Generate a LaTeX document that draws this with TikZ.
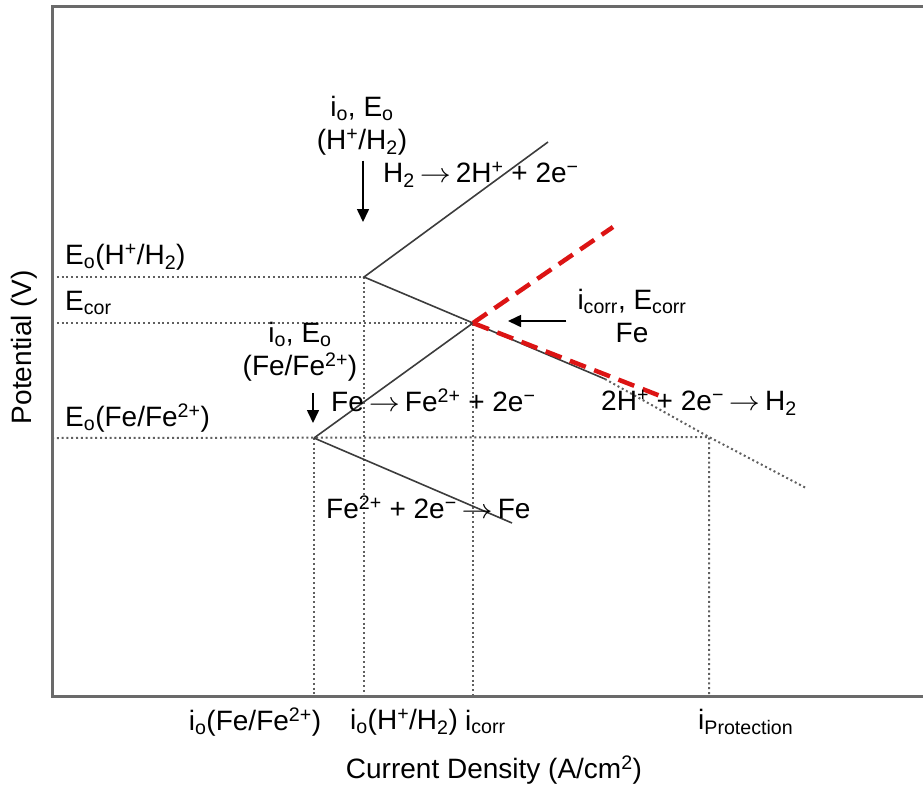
\documentclass[tikz,border=0pt]{standalone}
\usepackage{fontspec}
\setmainfont{Liberation Sans}
\usepackage{xcolor}
\usepackage{graphicx}
\usetikzlibrary{arrows.meta, positioning}
\definecolor{axisgray}{HTML}{6A6A6A}
\definecolor{guidegray}{HTML}{606060}
\definecolor{curvegray}{HTML}{3C3C3C}
\definecolor{polred}{HTML}{DC1414}
\newcommand{\yields}{\hspace{5pt}\scalebox{1.25}[1.1]{$\rightarrow$}\hspace{5pt}}

\begin{document}
\begin{tikzpicture}[
    x=1pt, y=-1pt,
    every node/.style={inner sep=1pt, font=\fontsize{28}{33}\selectfont},
    lbl/.style={align=center},
    axisline/.style={draw=axisgray, line width=3pt},
    guide/.style={draw=guidegray, line width=2pt, dash pattern=on 2pt off 2.8pt},
    tafel/.style={draw=curvegray, line width=1.6pt},
    polar/.style={draw=polred, line width=4.5pt, dash pattern=on 17pt off 9pt},
    pointer/.style={-{Triangle[length=13pt, width=12pt]}, line width=1.6pt, draw=black}
  ]
    \useasboundingbox (0,0) rectangle (923,788);

    % key points of the Evans diagram
    \coordinate (origin) at (52,696);
    \coordinate (hv) at (364,277);
    \coordinate (fev) at (314,438);
    \coordinate (corr) at (473,323);
    \coordinate (prot) at (709,437);
    \coordinate (hoxend) at (548,142);
    \coordinate (feredend) at (512,523);
    \coordinate (hsolid) at (605,379);
    \coordinate (hdotend) at (806,488);
    \coordinate (redup) at (613,227);
    \coordinate (reddown) at (663,397);

    % guide lines
    \draw[guide] (origin |- hv) -- (hv) -- (hv |- origin);
    \draw[guide] (origin |- corr) -- (corr) -- (corr |- origin);
    \draw[guide] (origin |- fev) -- (prot) -- (prot |- origin);
    \draw[guide] (fev) -- (fev |- origin);

    % axes
    \draw[axisline] (923,6) -- (52,6) -- (origin) -- (923,696);

    % tafel lines
    \draw[tafel] (hoxend) -- (hv) -- (corr) -- (hsolid);
    \draw[guide] (hsolid) -- (prot) -- (hdotend);
    \draw[tafel] (fev) -- (corr);
    \draw[tafel] (fev) -- (feredend);
    \draw[polar] (corr) -- (redup);
    \draw[polar] (corr) -- (reddown);

    % annotations
    \node[lbl] (hlbl) at (362,126) {i\textsubscript{o}, E\textsubscript{o}\\(H\textsuperscript{+}/H\textsubscript{2})};
    \node[anchor=west] (hox) at (382,175) {H\textsubscript{2}\yields 2H\textsuperscript{+} + 2e\textsuperscript{−}};
    \node[lbl] (felbl) at (300,352) {i\textsubscript{o}, E\textsubscript{o}\\(Fe/Fe\textsuperscript{2+})};
    \node[lbl] (corrlbl) at (632,316) {i\textsubscript{corr}, E\textsubscript{corr}\\Fe};
    \node[anchor=west] (feox) at (330,400) {Fe\yields Fe\textsuperscript{2+} + 2e\textsuperscript{−}};
    \node[anchor=west] (hred) at (600,403) {2H\textsuperscript{+} + 2e\textsuperscript{−}\yields H\textsubscript{2}};
    \node[anchor=west] (fered) at (325,507) {Fe\textsuperscript{2+} + 2e\textsuperscript{−}\yields Fe};

    \coordinate (htip) at (363,222);
    \coordinate (fetip) at (313,423);
    \coordinate (ctip) at (508,321);
    \draw[pointer, shorten <=4pt] (hlbl.south -| htip) -- (htip);
    \draw[pointer, shorten <=10pt] (felbl.south -| fetip) -- (fetip);
    \draw[pointer] ([xshift=-10pt]corrlbl.west |- ctip) -- (ctip);

    % axis labels
    \node[anchor=west] (ehlbl) at (64,257) {E\textsubscript{o}(H\textsuperscript{+}/H\textsubscript{2})};
    \node[anchor=west] (ecorlbl) at (64,303) {E\textsubscript{cor}};
    \node[anchor=west] (efelbl) at (64,418) {E\textsubscript{o}(Fe/Fe\textsuperscript{2+})};
    \node[rotate=90] (ylbl) at (24,347) {Potential (V)};

    \node (ifelbl) at (255,722) {i\textsubscript{o}(Fe/Fe\textsuperscript{2+})};
    \node (ihlbl) at (404,722) {i\textsubscript{o}(H\textsuperscript{+}/H\textsubscript{2})};
    \node[anchor=west] (icorrlbl) at (464,722) {i\textsubscript{corr}};
    \node[anchor=west] (iprotlbl) at (697,722) {i\textsubscript{Protection}};
    \node (xlbl) at (494,770) {Current Density (A/cm\textsuperscript{2})};
  \end{tikzpicture}
\end{document}
